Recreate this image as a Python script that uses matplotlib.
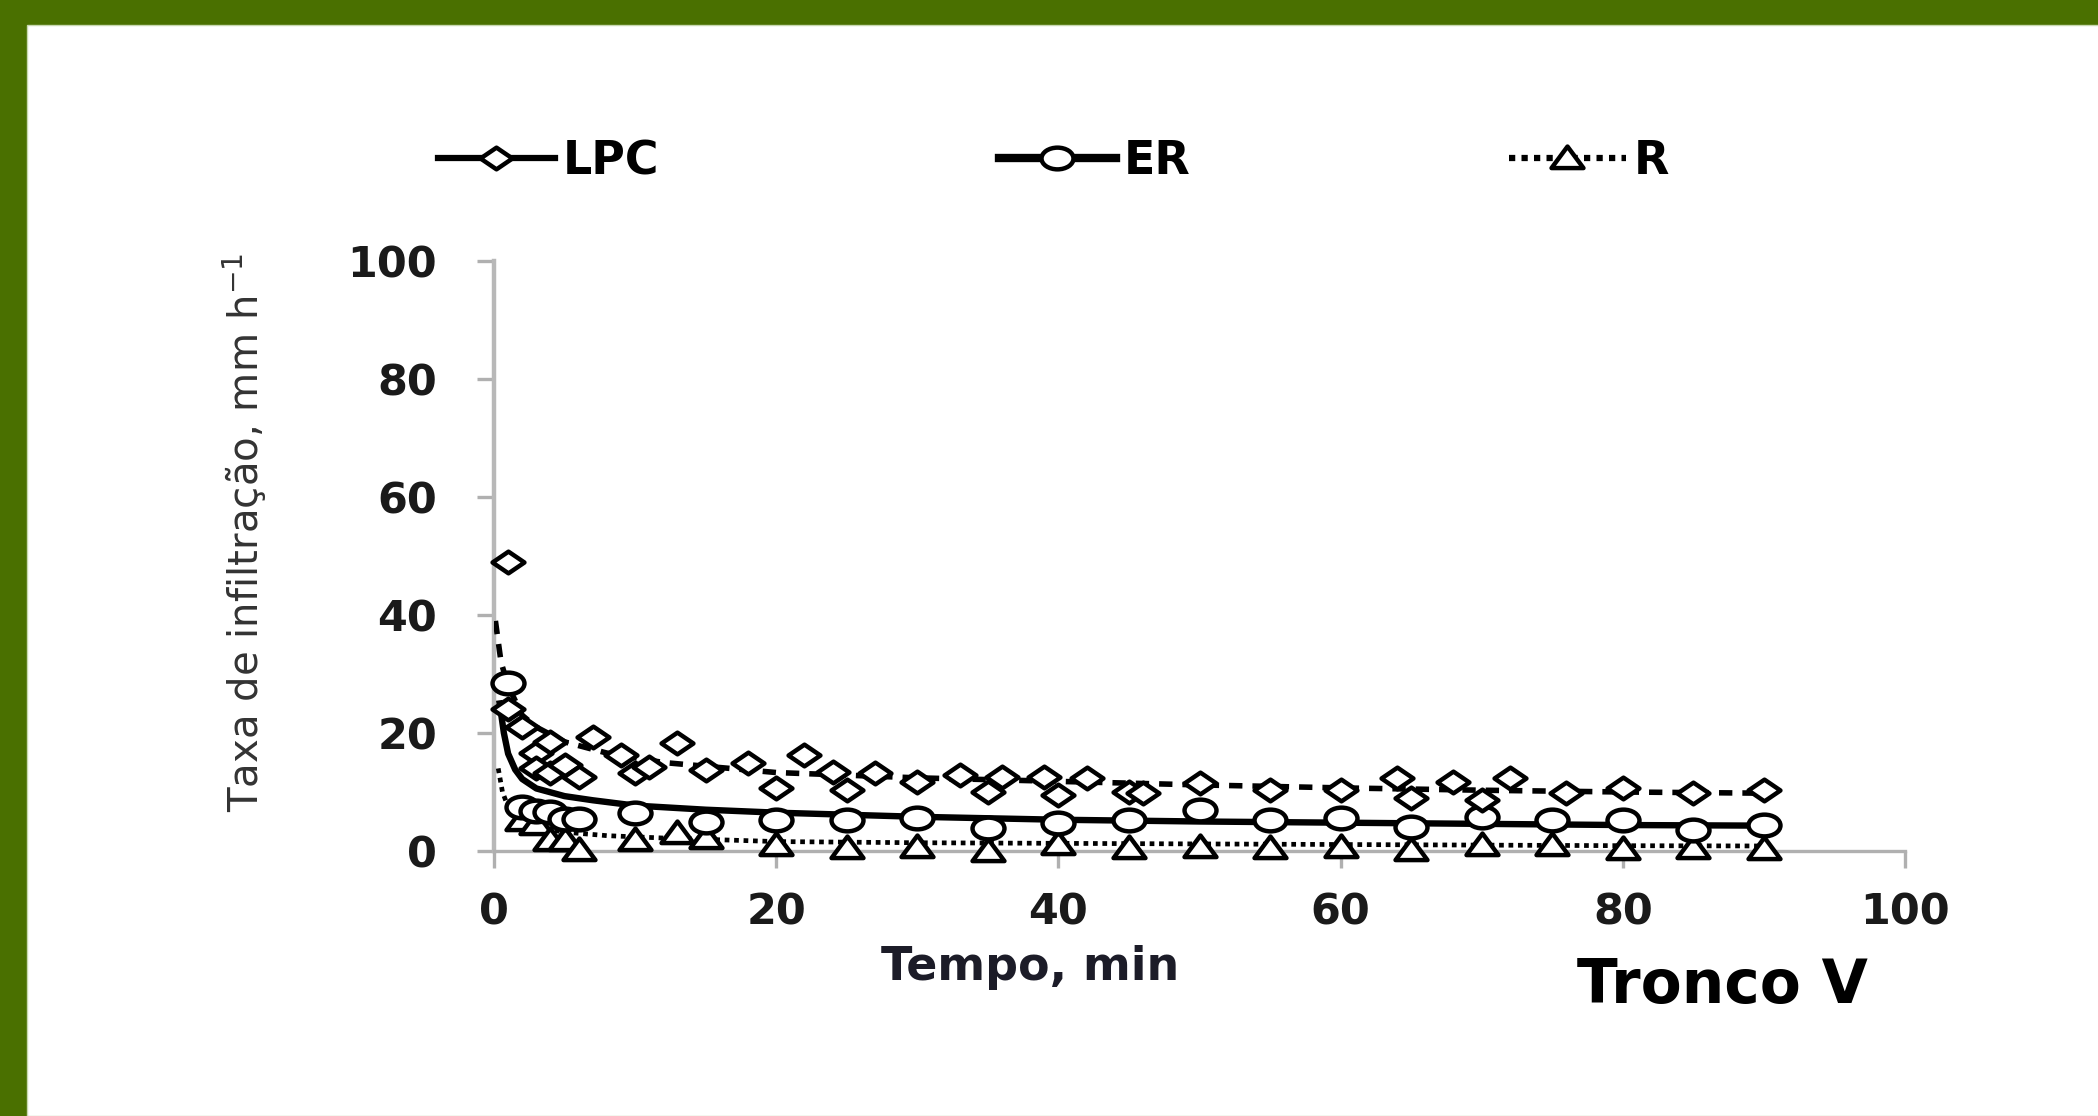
import matplotlib
matplotlib.use("Agg")
import matplotlib.pyplot as plt
from matplotlib.path import Path
from matplotlib.transforms import Affine2D
from matplotlib.lines import Line2D
from matplotlib.patches import Rectangle

# observed infiltration rates (mm/h) vs time (min)
lpc_t = [1, 1, 2, 3, 3, 4, 4, 5, 6, 7, 9, 10, 11, 13, 15, 18, 20, 22, 24, 25, 27, 30,
         33, 35, 36, 39, 40, 42, 45, 46, 50, 55, 60, 64, 65, 68, 70, 72, 76, 80, 85, 90]
lpc_y = [49, 24, 21, 16.6, 14.1, 18.5, 13.2, 14.6, 12.5, 19.3, 16.3, 13.2, 14.3, 18.3, 13.7,
         14.9, 10.7, 16.3, 13.4, 10.3, 13.2, 11.7, 12.9, 10.0, 12.5, 12.5, 9.5, 12.4, 10.0,
         9.8, 11.5, 10.3, 10.3, 12.4, 9.0, 11.7, 8.6, 12.4, 9.8, 10.7, 9.8, 10.3]

er_t = [1, 2, 3, 4, 5, 6, 10, 15, 20, 25, 30, 35, 40, 45, 50, 55, 60, 65, 70, 75, 80, 85, 90]
er_y = [28.5, 7.5, 6.8, 6.6, 5.4, 5.4, 6.4, 4.9, 5.3, 5.3, 5.6, 3.9, 4.7, 5.2, 7.0, 5.2,
        5.6, 4.1, 5.8, 5.2, 5.2, 3.6, 4.4]

r_t = [2, 3, 4, 5, 6, 10, 13, 15, 20, 25, 30, 35, 40, 45, 50, 55, 60, 65, 70, 75, 80, 85, 90]
r_y = [5.2, 4.5, 1.9, 1.9, 0.2, 1.9, 3.0, 2.2, 1.0, 0.5, 0.7, 0.0, 1.2, 0.5, 0.7, 0.5,
       0.7, 0.1, 1.0, 1.0, 0.3, 0.5, 0.3]

# fitted curves
lpc_fit_t = [0.1, 0.5, 1, 2, 3, 5, 8, 12, 20, 30, 40, 50, 60, 70, 80, 90]
lpc_fit_y = [39, 32, 28, 23, 21, 18.5, 16.6, 15, 13.3, 12.4, 11.8, 11.2, 10.7, 10.3, 10, 9.8]
er_fit_t = [0.4, 0.7, 1, 1.5, 2, 3, 5, 7, 10, 15, 20, 30, 40, 50, 60, 70, 80, 90]
er_fit_y = [25, 20, 16.5, 13.8, 12.2, 10.6, 9.3, 8.6, 7.7, 7.0, 6.5, 5.8, 5.3, 5.0, 4.8, 4.6, 4.4, 4.3]
r_fit_t = [0.3, 0.6, 1, 2, 3, 5, 8, 12, 20, 30, 40, 50, 60, 70, 80, 90]
r_fit_y = [14, 10, 7.5, 5, 4, 3.2, 2.6, 2.2, 1.6, 1.4, 1.3, 1.2, 1.1, 1.0, 0.9, 0.85]

xticks = [0, 20, 40, 60, 80, 100]
yticks = [0, 20, 40, 60, 80, 100]

# flattened markers (the source image is stretched sideways)
diamond = Path([(-1, 0), (0, 0.68), (1, 0), (0, -0.68), (0, 0)], closed=True)
ellipse = Path.unit_circle().transformed(Affine2D().scale(1, 0.68))
triangle = Path([(-1, -0.6), (0, 0.75), (1, -0.6), (0, 0)], closed=True)

green = '#4a7000'
fig = plt.figure(figsize=(20.98, 11.16), dpi=100)
fig.patch.set_facecolor(green)
fig.add_artist(Rectangle((27/2098, 0), 1, 1 - 25/1116, transform=fig.transFigure,
                         facecolor='white', edgecolor='#c8d8b0', lw=1, zorder=0))

ax = fig.add_axes([494/2098, 1 - 851/1116, 1411/2098, 590/1116])
ax.set_facecolor('none')

mk = dict(ms=23, mew=3.2, mec='black', mfc='white', ls='none', clip_on=False, zorder=4)
ax.plot(lpc_fit_t, lpc_fit_y, color='black', lw=4, dashes=(2.4, 1.8), zorder=3)
ax.plot(er_fit_t, er_fit_y, color='black', lw=4.6, zorder=3)
ax.plot(r_fit_t, r_fit_y, color='black', lw=3.4, dashes=(1, 1), zorder=3)
ax.plot(r_t, r_y, marker=triangle, **mk)
ax.plot(er_t, er_y, marker=ellipse, **mk)
ax.plot(lpc_t, lpc_y, marker=diamond, **mk)

ax.set_xlim(0, 100)
ax.set_ylim(0, 100)
ax.set_xticks(xticks)
ax.set_yticks(yticks)
for s in ['top', 'right']:
    ax.spines[s].set_visible(False)
ax.spines['left'].set_color('#b8b8b8')
ax.spines['left'].set_linewidth(3.2)
ax.spines['bottom'].set_color('#b0b0b0')
ax.spines['bottom'].set_linewidth(2.4)
ax.tick_params(axis='y', length=12, width=2.4, color='#b0b0b0', pad=29,
               labelsize=31, labelcolor='#1a1a1a')
ax.tick_params(axis='x', length=12, width=2.4, color='#b0b0b0', pad=17,
               labelsize=31, labelcolor='#1a1a1a')
for lab in ax.get_xticklabels() + ax.get_yticklabels():
    lab.set_fontweight('bold')

fig.text(245/2098, 1 - 532/1116, r'Taxa de infiltração, mm h$^{-1}$', rotation=90,
         ha='center', va='center', fontsize=29, color='#333333')
fig.text(1030/2098, 1 - 967/1116, 'Tempo, min', ha='center', va='center',
         fontsize=33, fontweight='bold', color='#1c1c28')
fig.text(1722/2098, 1 - 987/1116, 'Tronco V', ha='center', va='center',
         fontsize=43, fontweight='bold', color='black')

# legend entries, each placed where it sits in the source
entries = [
    ('LPC', diamond, dict(lw=4.5), 438),
    ('ER', ellipse, dict(lw=6), 999),
    ('R', triangle, dict(lw=4.5, dashes=(1, 1)), 1509),
]
for name, m, style, x in entries:
    h = Line2D([], [], color='black', marker=m, ms=23, mew=3.2, mec='black',
               mfc='white', **style)
    fig.legend([h], [name], loc='center left', bbox_to_anchor=(x/2098, 1 - 162/1116),
               frameon=False, borderpad=0, borderaxespad=0, handlelength=2.55,
               handletextpad=0.18, numpoints=1,
               prop=dict(size=33, weight='bold'))

fig.savefig('out.png', dpi=100, facecolor=fig.get_facecolor())
